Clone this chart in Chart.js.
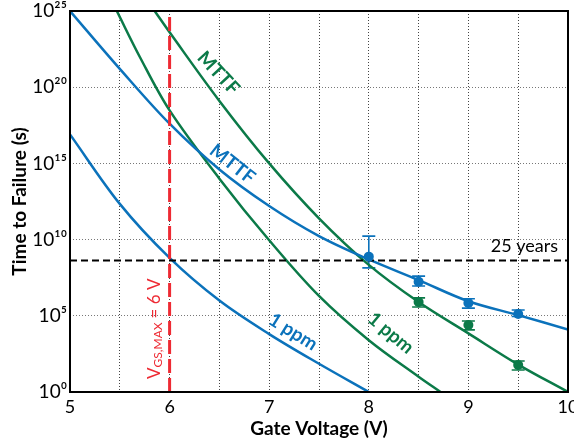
<!DOCTYPE html>
<html>
<head>
<meta charset="utf-8">
<script src="https://cdn.jsdelivr.net/npm/chart.js@4.4.0/dist/chart.umd.min.js"></script>
<style>
  html, body { margin: 0; padding: 0; background: #fff; }
</style>
</head>
<body>
<canvas id="ttfChart" width="574" height="445"></canvas>
<script>
// Gate voltage (V) vs time to failure (s)
const blueMttfV = [5, 5.5, 6, 6.5, 7, 7.5, 8, 8.5, 9, 9.5, 10];
const blueMttfT = [1e25, 1.6e21, 4e17, 4e14, 1.6e12, 1.7e10, 5e8, 2.2e7, 9e5, 1.1e5, 1.26e4];

const blue1ppmV = [5, 5.5, 6, 6.5, 7, 7.5, 8];
const blue1ppmT = [8e16, 2.2e12, 6.3e8, 1e6, 6.3e3, 71, 1];

const greenMttfV = [5.85, 6, 6.5, 7, 7.5, 8, 8.5, 9, 9.5, 10];
const greenMttfT = [1e25, 4e23, 1.26e19, 1e15, 2.5e11, 2.2e8, 8e5, 7e3, 63, 1];

const green1ppmV = [5.47, 5.7, 6, 6.5, 7, 7.5, 8, 8.5, 8.72];
const green1ppmT = [1e25, 1e22, 3e18, 1e14, 9e9, 2e6, 2.5e3, 10, 1];

// measured points with error bars
const blueMeasV = [8, 8.5, 9, 9.5];
const blueMeasT = [7.6e8, 1.7e7, 7e5, 1.3e5];
const blueMeasHi = [1.7e10, 4e7, 1.3e6, 2.4e5];
const blueMeasLo = [1.4e8, 9e6, 3.2e5, 9e4];

const greenMeasV = [8.5, 9, 9.5];
const greenMeasT = [8e5, 2.5e4, 59];
const greenMeasHi = [1.5e6, 4.6e4, 107];
const greenMeasLo = [3.8e5, 1.2e4, 28];

const years25 = 4.2e8;
const vgsMax = 6;

const xMin = 5, xMax = 10;
const yMin = 1, yMax = 1e25;
const yTicks = [1, 1e5, 1e10, 1e15, 1e20, 1e25];
const yTickLabels = ['10⁰', '10⁵', '10¹⁰', '10¹⁵', '10²⁰', '10²⁵'];

const BLUE = '#0b72bb';
const GREEN = '#0b7a48';
const RED = '#ee2a33';
const FONT = 'Lato, "Liberation Sans", sans-serif';

// curve labels, placed in data coordinates
const notes = [
    { text: 'MTTF', v: 6.49, t: 8.5e20, angle: 47, color: GREEN },
    { text: 'MTTF', v: 6.63, t: 9e14, angle: 38, color: BLUE },
    { text: '1 ppm', v: 7.24, t: 8.7e3, angle: 32, color: BLUE },
    { text: '1 ppm', v: 8.22, t: 7.4e3, angle: 40, color: GREEN }
];

function toPoints(xs, ys) {
    return xs.map(function(v, i) { return { x: v, y: ys[i] }; });
}

function curve(xs, ys, color) {
    return {
        data: toPoints(xs, ys),
        borderColor: color,
        borderWidth: 2.5,
        pointRadius: 0,
        tension: 0.35,
        fill: false,
        order: 3
    };
}

function drawErrorBars(ctx, xs, ys, his, los, color, sx, sy) {
    ctx.save();
    ctx.strokeStyle = color;
    ctx.lineWidth = 1.6;
    xs.forEach(function(v, i) {
        const px = sx.getPixelForValue(v);
        const top = sy.getPixelForValue(his[i]);
        const bot = sy.getPixelForValue(los[i]);
        ctx.beginPath();
        ctx.moveTo(px, top); ctx.lineTo(px, bot);
        ctx.moveTo(px - 6.5, top); ctx.lineTo(px + 6.5, top);
        ctx.moveTo(px - 6.5, bot); ctx.lineTo(px + 6.5, bot);
        ctx.stroke();
    });
    ctx.restore();
}

const extrasPlugin = {
    id: 'extras',
    beforeDatasetsDraw(chart) {
        const ctx = chart.ctx;
        const sx = chart.scales.x, sy = chart.scales.y;
        const a = chart.chartArea;
        ctx.save();
        ctx.beginPath();
        ctx.rect(a.left, a.top, a.right - a.left, a.bottom - a.top);
        ctx.clip();
        drawErrorBars(ctx, blueMeasV, blueMeasT, blueMeasHi, blueMeasLo, BLUE, sx, sy);
        drawErrorBars(ctx, greenMeasV, greenMeasT, greenMeasHi, greenMeasLo, GREEN, sx, sy);
        ctx.restore();
    },
    afterDraw(chart) {
        const ctx = chart.ctx;
        const sx = chart.scales.x, sy = chart.scales.y;
        const a = chart.chartArea;

        // frame round the plot
        ctx.save();
        ctx.strokeStyle = '#000';
        ctx.lineWidth = 2;
        ctx.strokeRect(a.left, a.top, a.right - a.left, a.bottom - a.top);
        ctx.restore();

        // rotated curve labels
        notes.forEach(function(n) {
            ctx.save();
            ctx.translate(sx.getPixelForValue(n.v), sy.getPixelForValue(n.t));
            ctx.rotate(n.angle * Math.PI / 180);
            ctx.fillStyle = n.color;
            ctx.font = 'bold 19px ' + FONT;
            ctx.textAlign = 'center';
            ctx.textBaseline = 'middle';
            ctx.fillText(n.text, 0, 0);
            ctx.restore();
        });

        // 25 years
        ctx.save();
        ctx.fillStyle = '#000';
        ctx.font = '18px ' + FONT;
        ctx.textAlign = 'right';
        ctx.textBaseline = 'alphabetic';
        ctx.fillText('25 years', a.right - 10, sy.getPixelForValue(years25) - 9);
        ctx.restore();

        // V_GS,MAX = 6 V, reading upward beside the red line
        ctx.save();
        ctx.translate(sx.getPixelForValue(vgsMax) - 15, a.bottom - 13);
        ctx.rotate(-Math.PI / 2);
        ctx.fillStyle = RED;
        ctx.textAlign = 'left';
        ctx.textBaseline = 'middle';
        const big = '17px ' + FONT, small = '12px ' + FONT;
        let cx = 0;
        ctx.font = big; ctx.fillText('V', cx, 0); cx += ctx.measureText('V').width;
        ctx.font = small; ctx.fillText('GS,MAX', cx, 4); cx += ctx.measureText('GS,MAX').width + 4;
        ctx.font = big; ctx.fillText('= 6 V', cx, 0);
        ctx.restore();
    }
};

Chart.defaults.font.family = FONT;
Chart.defaults.color = '#000';

new Chart(document.getElementById('ttfChart'), {
    type: 'line',
    data: {
        datasets: [
            {
                data: toPoints(blueMeasV, blueMeasT),
                showLine: false,
                pointRadius: 5,
                pointBackgroundColor: BLUE,
                pointBorderWidth: 0,
                order: 1
            },
            {
                data: toPoints(greenMeasV, greenMeasT),
                showLine: false,
                pointRadius: 5,
                pointBackgroundColor: GREEN,
                pointBorderWidth: 0,
                order: 1
            },
            {
                data: toPoints([xMin, xMax], [years25, years25]),
                borderColor: '#000',
                borderWidth: 2,
                borderDash: [7, 4],
                pointRadius: 0,
                order: 2
            },
            {
                data: toPoints([vgsMax, vgsMax], [yMin, yMax]),
                borderColor: RED,
                borderWidth: 3,
                borderDash: [14, 5],
                pointRadius: 0,
                order: 2
            },
            curve(blueMttfV, blueMttfT, BLUE),
            curve(blue1ppmV, blue1ppmT, BLUE),
            curve(greenMttfV, greenMttfT, GREEN),
            curve(green1ppmV, green1ppmT, GREEN)
        ]
    },
    options: {
        responsive: false,
        animation: false,
        layout: { padding: { top: 11, right: 6, left: 0, bottom: 0 } },
        plugins: {
            legend: { display: false },
            tooltip: { enabled: false }
        },
        scales: {
            x: {
                type: 'linear',
                min: xMin,
                max: xMax,
                afterFit: function(scale) {
                    scale.height = 53;
                    scale.paddingLeft = 0;
                    scale.paddingRight = 0;
                },
                ticks: {
                    stepSize: 0.5,
                    autoSkip: false,
                    maxRotation: 0,
                    padding: 4,
                    font: { size: 18 },
                    callback: function(value) {
                        return Number.isInteger(value) ? String(value) : '';
                    }
                },
                grid: { color: '#444', lineWidth: 1, drawTicks: false },
                border: { display: false, dash: [1, 2] },
                title: {
                    display: true,
                    text: 'Gate Voltage (V)',
                    font: { size: 19, weight: 'bold' },
                    padding: { top: 0, bottom: 5 }
                }
            },
            y: {
                type: 'logarithmic',
                min: yMin,
                max: yMax,
                afterFit: function(scale) {
                    scale.width = 70;
                    scale.paddingTop = 0;
                    scale.paddingBottom = 0;
                },
                afterBuildTicks: function(scale) {
                    scale.ticks = yTicks.map(function(v) { return { value: v }; });
                },
                ticks: {
                    padding: 3,
                    font: { size: 19 },
                    callback: function(value) {
                        const i = yTicks.indexOf(value);
                        return i >= 0 ? yTickLabels[i] : '';
                    }
                },
                grid: { color: '#777', lineWidth: 1, drawTicks: false },
                border: { display: false, dash: [1, 2] },
                title: {
                    display: true,
                    text: 'Time to Failure (s)',
                    font: { size: 19, weight: 'bold' },
                    padding: { top: 8, bottom: 0 }
                }
            }
        }
    },
    plugins: [extrasPlugin]
});
</script>
</body>
</html>
